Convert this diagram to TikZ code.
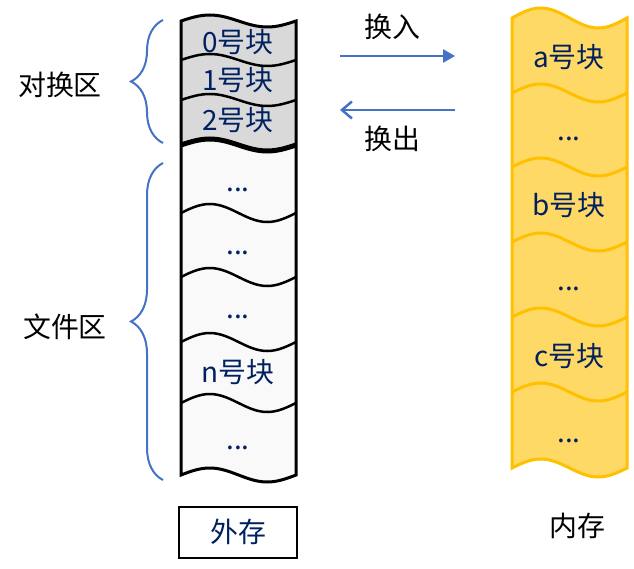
\documentclass[tikz,border=0pt]{standalone}
\usepackage{fontspec}
\setmainfont{Noto Sans CJK SC}
\usepackage{tikz}
\usetikzlibrary{arrows.meta, decorations.pathreplacing}
\definecolor{navy}{RGB}{0, 32, 96}
\definecolor{swapgray}{RGB}{217, 217, 217}
\definecolor{filegray}{RGB}{249, 249, 249}
\definecolor{memfill}{RGB}{255, 217, 102}
\definecolor{memline}{RGB}{255, 192, 0}
\definecolor{bracecol}{RGB}{68, 114, 196}
% one wave across a strip: left x, y, width, amplitude
\newcommand{\wavy}[4]{(#1,#2) sin ++(#3/4,-#4) cos ++(#3/4,#4) sin ++(#3/4,#4) cos ++(#3/4,-#4)}
% the same wave, walked from the right end back to the left
\newcommand{\wavyback}[4]{(#1,#2) sin ++(-#3/4,#4) cos ++(-#3/4,-#4) sin ++(-#3/4,-#4) cos ++(-#3/4,#4)}

\begin{document}
\begin{tikzpicture}[x=1bp, y=-1bp, font=\fontsize{28}{32}\selectfont,
    block/.style={text=navy},
    dots/.style={text=navy, anchor=base},
    regionbrace/.style={draw=bracecol, line width=2bp, decorate,
      decoration={brace, amplitude=32bp}},
    swaparrow/.style={draw=bracecol, line width=2.5bp}]
  \useasboundingbox (0, 0) rectangle (634, 569);

  % outer storage strip
  \fill[swapgray] \wavy{181}{21}{115}{6} -- \wavyback{296}{145}{115}{6} -- cycle;
  \fill[filegray] \wavy{181}{145}{115}{6} -- \wavyback{296}{475}{115}{7} -- cycle;
  \draw[line width=2.5bp] \wavy{181}{60}{115}{6};
  \draw[line width=2.5bp] \wavy{181}{100}{115}{6};
  \draw[line width=5bp] \wavy{181}{145}{115}{6};
  \draw[line width=2.5bp] \wavy{181}{213}{115}{9};
  \draw[line width=2.5bp] \wavy{181}{277}{115}{9};
  \draw[line width=2.5bp] \wavy{181}{342}{115}{9};
  \draw[line width=2.5bp] \wavy{181}{403}{115}{9};
  \draw[line width=3bp] \wavy{181}{21}{115}{6} -- \wavyback{296}{475}{115}{7} -- cycle;

  \node[block] (blk0) at (238, 42) {0号块};
  \node[block] (blk1) at (238, 80) {1号块};
  \node[block] (blk2) at (238, 120) {2号块};
  \node[dots] (fdots1) at (238, 191) {...};
  \node[dots] (fdots2) at (238, 254) {...};
  \node[dots] (fdots3) at (238, 318) {...};
  \node[block] (blkn) at (238, 372) {n号块};
  \node[dots] (fdots4) at (238, 449) {...};

  % main memory strip
  \filldraw[fill=memfill, draw=memline, line width=3bp]
    \wavy{512}{18}{115}{10} -- \wavyback{627}{468}{115}{9} -- cycle;
  \draw[memline, line width=3bp] \wavy{512}{93}{115}{9};
  \draw[memline, line width=3bp] \wavy{512}{167}{115}{9};
  \draw[memline, line width=3bp] \wavy{512}{242}{115}{9};
  \draw[memline, line width=3bp] \wavy{512}{317}{115}{9};
  \draw[memline, line width=3bp] \wavy{512}{392}{115}{9};

  \node[block] (blka) at (569, 57) {a号块};
  \node[dots] (mdots1) at (569, 141) {...};
  \node[block] (blkb) at (569, 205) {b号块};
  \node[dots] (mdots2) at (569, 290) {...};
  \node[block] (blkc) at (569, 356) {c号块};
  \node[dots] (mdots3) at (569, 442) {...};

  % regions of the outer strip
  \coordinate (swaptop) at (163, 20);
  \coordinate (swapbot) at (163, 143);
  \coordinate (filetop) at (163, 163);
  \coordinate (filebot) at (163, 480);
  \draw[regionbrace] (swapbot) -- (swaptop);
  \draw[regionbrace] (filebot) -- (filetop);
  \node (swaparea) at (60, 85) {对换区};
  \node (filearea) at (65, 327) {文件区};

  % swapping in and out
  \coordinate (inleft) at (340, 56);
  \coordinate (inright) at (455, 56);
  \coordinate (outright) at (455, 110);
  \coordinate (outleft) at (340, 110);
  \draw[swaparrow, -{Triangle[length=12bp, width=13bp]}] (inleft) -- (inright);
  \draw[swaparrow, -{Straight Barb[length=10bp, width=17bp]}] (outright) -- (outleft);
  \node (swapin) at (392, 27) {换入};
  \node (swapout) at (392, 139) {换出};

  \node[draw, line width=2bp, text=navy, minimum width=118bp, minimum height=51bp,
    inner sep=0pt] (outer) at (238, 532) {外存};
  \node (inner) at (577, 526) {内存};
\end{tikzpicture}
\end{document}
